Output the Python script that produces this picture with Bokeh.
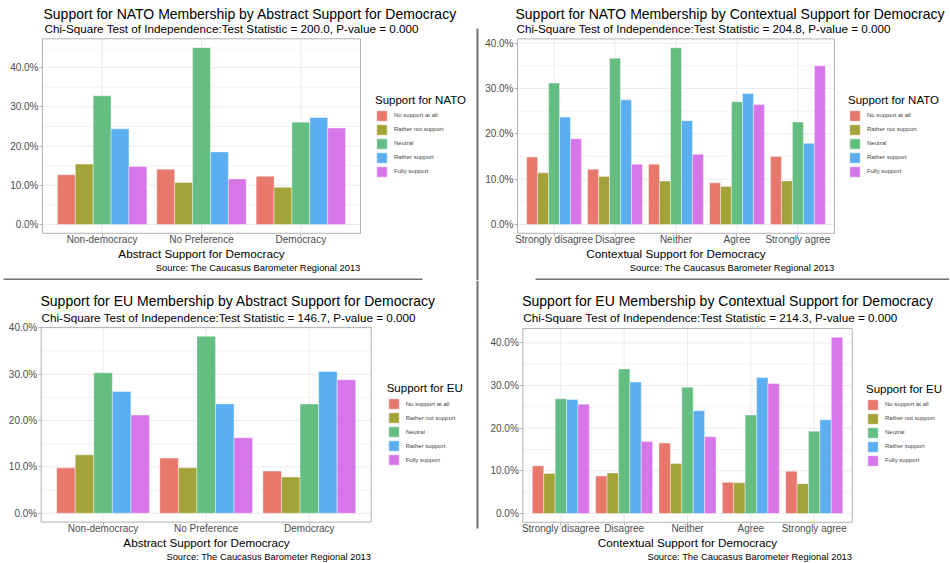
from bokeh.plotting import figure
from bokeh.models import (ColumnDataSource, Range1d, FixedTicker, NumeralTickFormatter,
                          Legend, LegendItem, Label, BoxAnnotation)
from bokeh.layouts import column, row
from bokeh.transform import dodge
from bokeh.embed import file_html
from bokeh.resources import INLINE

FONT = "Liberation Sans"

support_levels = ["No support at all", "Rather not support", "Neutral", "Rather support", "Fully support"]
level_colors = ["#E8786C", "#A4A33A", "#64BD81", "#5BAFF0", "#D676E9"]

abstract_cats = ["Non-democracy", "No Preference", "Democracy"]
contextual_cats = ["Strongly disagree", "Disagree", "Neither", "Agree", "Strongly agree"]

y_major_ticks = [0.0, 0.1, 0.2, 0.3, 0.4]
y_minor_ticks = [0.05, 0.15, 0.25, 0.35, 0.45]

# NATO by abstract support for democracy (% within category)
nato_abs_no_support = [12.7, 14.1, 12.3]
nato_abs_rather_not = [15.4, 10.7, 9.5]
nato_abs_neutral = [32.8, 45.1, 26.1]
nato_abs_rather = [24.4, 18.5, 27.3]
nato_abs_fully = [14.8, 11.6, 24.6]

# NATO by contextual support for democracy
nato_ctx_no_support = [14.9, 12.2, 13.3, 9.2, 15.0]
nato_ctx_rather_not = [11.4, 10.6, 9.6, 8.4, 9.6]
nato_ctx_neutral = [31.2, 36.7, 39.0, 27.1, 22.6]
nato_ctx_rather = [23.7, 27.5, 22.9, 28.9, 17.9]
nato_ctx_fully = [18.9, 13.3, 15.5, 26.5, 35.0]

# EU by abstract support for democracy
eu_abs_no_support = [9.8, 11.9, 9.1]
eu_abs_rather_not = [12.6, 9.8, 7.8]
eu_abs_neutral = [30.3, 38.2, 23.6]
eu_abs_rather = [26.3, 23.6, 30.6]
eu_abs_fully = [21.2, 16.3, 28.8]

# EU by contextual support for democracy
eu_ctx_no_support = [11.2, 8.8, 16.5, 7.3, 9.9]
eu_ctx_rather_not = [9.4, 9.5, 11.7, 7.2, 7.0]
eu_ctx_neutral = [26.9, 33.9, 29.6, 23.1, 19.3]
eu_ctx_rather = [26.7, 30.8, 24.1, 31.9, 22.0]
eu_ctx_fully = [25.6, 16.9, 18.0, 30.5, 41.3]

SUB = "Chi-Square Test of Independence:Test Statistic = {}, P-value = 0.000"
SOURCE = "Source: The Caucasus Barometer Regional 2013"
SEP = "#707070"
GRID = "#EBEBEB"
GRID_MINOR = "#F4F4F4"
BORDER = "#B3B3B3"


def make_panel(cats, series, title, stat, xtitle, legend_title, W, H,
               L, R, T, B, title_x, title_y, sub_dy, legend_x, seps):
    n = len(cats)
    ymax = max(max(s) for s in series) / 100.0
    ylo, yhi = -0.05 * ymax, 1.05 * ymax
    xlo, xhi = 0.4, n + 0.6
    sx = (xhi - xlo) / (R - L)
    sy = (yhi - ylo) / (B - T)
    x0, x1 = xlo - L * sx, xhi + (W - R) * sx
    y0, y1 = ylo - (H - B) * sy, yhi + T * sy

    def px(v):
        return x0 + v * (x1 - x0) / W

    def py(v):
        return y1 - v * (y1 - y0) / H

    p = figure(width=W, height=H, output_backend="svg", toolbar_location=None, title=None,
               x_range=Range1d(x0, x1), y_range=Range1d(y0, y1),
               min_border=0, min_border_left=0, min_border_right=0,
               min_border_top=0, min_border_bottom=0,
               background_fill_color="white", border_fill_color="white")
    p.outline_line_color = None
    p.grid.visible = False

    # panel grid (inside the panel only)
    yt = [t for t in y_major_ticks if ylo <= t <= yhi]
    ym = [t for t in y_minor_ticks if ylo <= t <= yhi]
    p.segment(x0=[xlo] * len(ym), x1=[xhi] * len(ym), y0=ym, y1=ym,
              line_color=GRID_MINOR, line_width=1)
    p.segment(x0=[xlo] * len(yt), x1=[xhi] * len(yt), y0=yt, y1=yt,
              line_color=GRID, line_width=1)
    xt = list(range(1, n + 1))
    p.segment(x0=xt, x1=xt, y0=[ylo] * n, y1=[yhi] * n, line_color=GRID, line_width=1)

    data = {"x": xt}
    for i, s in enumerate(series):
        data["s%d" % i] = [v / 100.0 for v in s]
    src = ColumnDataSource(data)
    bw = 0.9 / len(series)
    items = []
    for i, (lvl, col) in enumerate(zip(support_levels, level_colors)):
        r = p.vbar(x=dodge("x", (i - 2) * bw), top="s%d" % i, bottom=0, width=bw, source=src,
                   fill_color=col, line_color="white", line_alpha=0.5, line_width=0.8)
        items.append(LegendItem(label=lvl, renderers=[r]))

    p.add_layout(BoxAnnotation(left=xlo, right=xhi, bottom=ylo, top=yhi, fill_color=None,
                               line_color=BORDER, line_width=1, line_alpha=1))

    # axes drawn at the panel edges
    p.xaxis.fixed_location = ylo
    p.xaxis.bounds = (xlo, xhi)
    p.yaxis.fixed_location = xlo
    p.yaxis.bounds = (ylo, yhi)
    p.xaxis.ticker = FixedTicker(ticks=xt)
    p.xaxis.major_label_overrides = {k + 1: c for k, c in enumerate(cats)}
    p.yaxis.ticker = FixedTicker(ticks=y_major_ticks)
    p.yaxis.formatter = NumeralTickFormatter(format="0.0%")
    for ax in (p.xaxis[0], p.yaxis[0]):
        ax.axis_line_color = None
        ax.major_tick_line_color = BORDER
        ax.major_tick_out = 3
        ax.major_tick_in = 0
        ax.minor_tick_line_color = None
        ax.major_label_text_font = FONT
        ax.major_label_text_font_size = "10px"
        ax.major_label_text_color = "#4D4D4D"
    p.xaxis.major_label_standoff = -2
    p.yaxis.major_label_standoff = 1
    p.xaxis.axis_label = xtitle
    p.xaxis.axis_label_text_font = FONT
    p.xaxis.axis_label_text_font_style = "normal"
    p.xaxis.axis_label_text_font_size = "11.7px"
    p.xaxis.axis_label_text_color = "black"
    p.xaxis.axis_label_standoff = -2

    p.add_layout(Label(x=px(title_x), y=py(title_y), text=title, text_font=FONT,
                       text_font_size="14px", text_color="black",
                       text_baseline="middle", text_align="left"))
    p.add_layout(Label(x=px(title_x + 1), y=py(title_y + sub_dy), text=SUB.format(stat),
                       text_font=FONT, text_font_size="11.7px", text_color="black",
                       text_baseline="middle", text_align="left"))
    p.add_layout(Label(x=px(R), y=py(B + 34), text=SOURCE, text_font=FONT,
                       text_font_size="9.4px", text_color="black",
                       text_baseline="middle", text_align="right"))

    legend_h = 84
    legend_bottom = (T + B) / 2 + legend_h / 2
    legend = Legend(items=items, location=(legend_x, H - legend_bottom), title=legend_title,
                    title_text_font=FONT, title_text_font_size="11.5px",
                    title_text_font_style="normal", title_text_color="black", title_standoff=3,
                    label_text_font=FONT, label_text_font_size="6px", label_standoff=6,
                    glyph_width=13, glyph_height=13, label_height=13, spacing=1,
                    padding=0, margin=0, border_line_color=None, background_fill_alpha=0)
    p.add_layout(legend)

    for (a, b, c, d) in seps:
        p.add_layout(BoxAnnotation(left=px(a), right=px(b), top=py(c), bottom=py(d),
                                   fill_color=SEP, fill_alpha=1.0, line_color=None))
    return p


p1 = make_panel(abstract_cats,
                [nato_abs_no_support, nato_abs_rather_not, nato_abs_neutral, nato_abs_rather, nato_abs_fully],
                "Support for NATO Membership by Abstract Support for Democracy", "200.0",
                "Abstract Support for Democracy", "Support for NATO",
                475, 280, 42, 360, 38.3, 232.8, 43, 13.3, 15, 375,
                [(3, 422, 278, 280)])
p2 = make_panel(contextual_cats,
                [nato_ctx_no_support, nato_ctx_rather_not, nato_ctx_neutral, nato_ctx_rather, nato_ctx_fully],
                "Support for NATO Membership by Contextual Support for Democracy", "204.8",
                "Contextual Support for Democracy", "Support for NATO",
                474, 280, 42, 359, 38.4, 232.8, 40, 13.3, 15, 373,
                [(1, 3, 28, 280), (60, 474, 278, 280)])
p3 = make_panel(abstract_cats,
                [eu_abs_no_support, eu_abs_rather_not, eu_abs_neutral, eu_abs_rather, eu_abs_fully],
                "Support for EU Membership by Abstract Support for Democracy", "146.7",
                "Abstract Support for Democracy", "Support for EU",
                475, 282, 40.7, 370.7, 46.9, 241.6, 40, 20.7, 16, 386.7,
                [])
p4 = make_panel(contextual_cats,
                [eu_ctx_no_support, eu_ctx_rather_not, eu_ctx_neutral, eu_ctx_rather, eu_ctx_fully],
                "Support for EU Membership by Contextual Support for Democracy", "214.3",
                "Contextual Support for Democracy", "Support for EU",
                474, 282, 47.3, 376.7, 48.0, 241.8, 46.7, 20.7, 16, 391,
                [(1, 3, 0, 248)])

layout = column(row(p1, p2), row(p3, p4))
open("out.html", "w").write(file_html(layout, INLINE))
